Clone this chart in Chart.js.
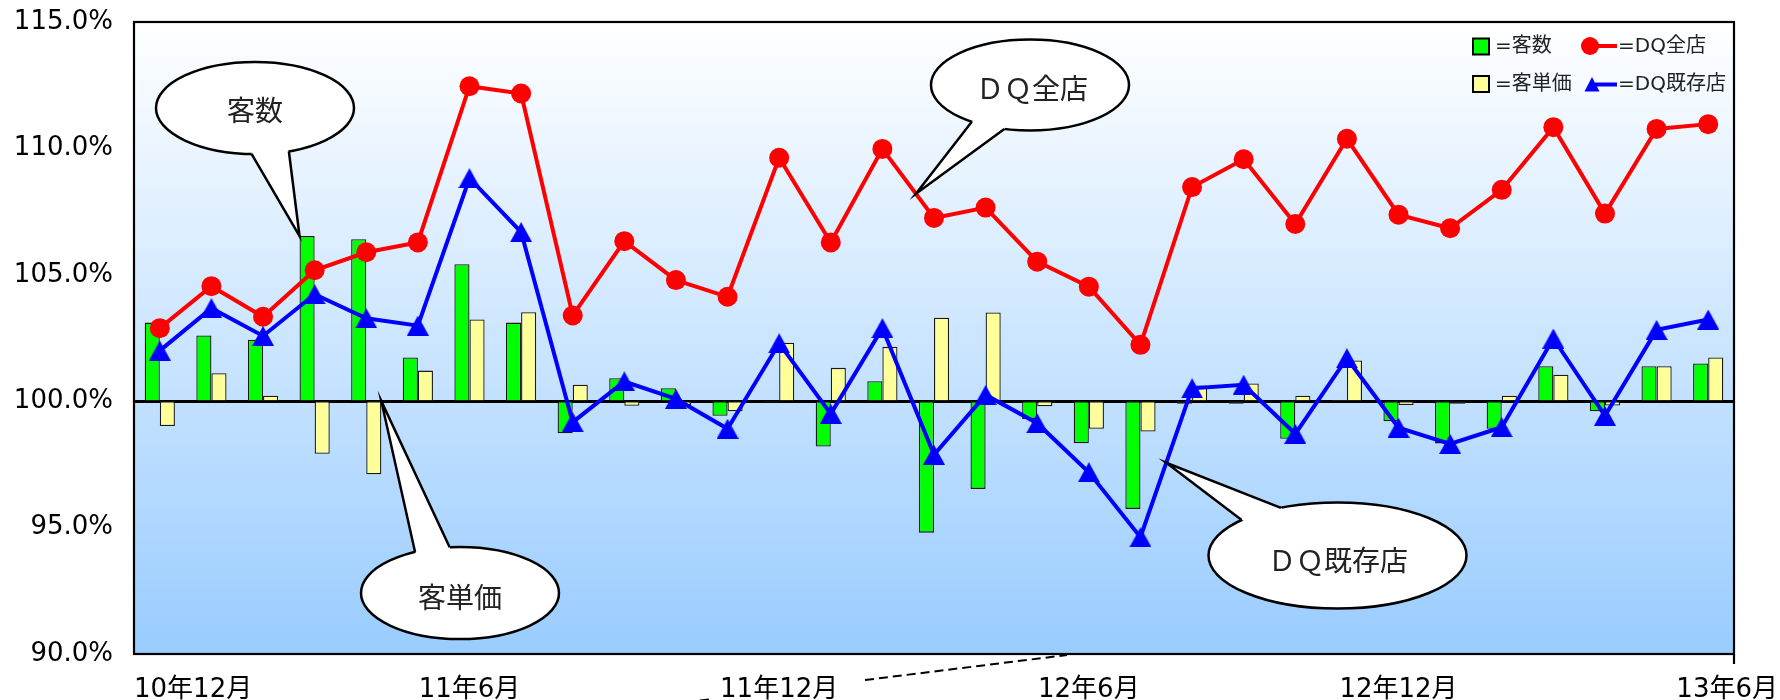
<!DOCTYPE html>
<html>
<head>
<meta charset="utf-8">
<title>客数・客単価・DQ全店・DQ既存店</title>
<script src="https://cdn.jsdelivr.net/npm/chart.js@4.4.1/dist/chart.umd.min.js"></script>
<style>
  html, body { margin: 0; padding: 0; background: #ffffff; }
  canvas { display: block; }
</style>
</head>
<body>
<canvas id="chart" width="1780" height="700"></canvas>
<script>
// Monthly categories, Dec 2010 – Jun 2013
const months = [
  '10年12月',
  '11年1月', '11年2月', '11年3月', '11年4月', '11年5月', '11年6月',
  '11年7月', '11年8月', '11年9月', '11年10月', '11年11月', '11年12月',
  '12年1月', '12年2月', '12年3月', '12年4月', '12年5月', '12年6月',
  '12年7月', '12年8月', '12年9月', '12年10月', '12年11月', '12年12月',
  '13年1月', '13年2月', '13年3月', '13年4月', '13年5月', '13年6月'
];

// Months that carry a label on the horizontal axis
const axisLabels = ['10年12月', '11年6月', '11年12月', '12年6月', '12年12月', '13年6月'];

// Year-on-year ratios (%)
const guestCount = [
  103.11, 102.60, 102.43, 106.53, 106.41, 101.73, 105.42, 103.11, 98.73, 100.91,
  100.51, 99.42, 99.95, 98.21, 100.79, 94.80, 96.53, 99.30, 98.34, 95.74,
  99.90, 99.90, 98.51, 100.05, 99.21, 98.33, 98.91, 101.38, 99.60, 101.38,
  101.49
];
const spendPerGuest = [
  99.02, 101.11, 100.22, 97.92, 97.11, 101.21, 103.23, 103.52, 100.65, 99.82,
  99.85, 99.60, 102.31, 101.32, 102.15, 103.30, 103.51, 99.80, 98.91, 98.80,
  100.62, 100.70, 100.22, 101.61, 99.85, 99.90, 100.22, 101.05, 99.83, 101.38,
  101.73
];
const dqAllStores = [
  102.89, 104.55, 103.34, 105.18, 105.89, 106.28, 112.46, 112.17, 103.39, 106.33,
  104.79, 104.13, 109.63, 106.28, 109.98, 107.25, 107.66, 105.52, 104.53, 102.23,
  108.47, 109.57, 107.01, 110.38, 107.38, 106.84, 108.36, 110.84, 107.42, 110.77,
  110.96
];
const dqExistingStores = [
  102.00, 103.68, 102.58, 104.23, 103.28, 102.99, 108.82, 106.69, 99.17, 100.78,
  100.09, 98.91, 102.29, 99.50, 102.89, 97.88, 100.25, 99.13, 97.19, 94.62,
  100.51, 100.65, 98.71, 101.70, 98.95, 98.31, 98.97, 102.48, 99.42, 102.82,
  103.23
];

const yTicks = [90, 95, 100, 105, 110, 115];
const baseline = 100;
const seriesNames = ['客数', '客単価', 'DQ全店', 'DQ既存店'];
const calloutTexts = ['客数', '客単価', 'ＤＱ全店', 'ＤＱ既存店'];

const LATIN = "'DejaVu Sans', 'Noto Sans CJK JP', sans-serif";
const CJK = "'Noto Sans CJK JP', sans-serif";
const GREEN = '#00FF00';
const YELLOW = '#FFFF99';
const RED = '#FF0000';
const BLUE = '#0000FF';

// Upward triangle marker, centred on its point
function triangleSprite(w, h, color) {
  const c = document.createElement('canvas');
  c.width = w; c.height = h;
  const g = c.getContext('2d');
  g.fillStyle = color;
  g.beginPath();
  g.moveTo(w / 2, 0);
  g.lineTo(w, h);
  g.lineTo(0, h);
  g.closePath();
  g.fill();
  return c;
}
const blueTriangle = triangleSprite(22, 20, BLUE);

// Plot background: white fading to light blue
const plotBackground = {
  id: 'plotBackground',
  beforeDraw(chart) {
    const { ctx, chartArea: a } = chart;
    ctx.save();
    ctx.fillStyle = '#ffffff';
    ctx.fillRect(0, 0, chart.width, chart.height);
    const g = ctx.createLinearGradient(0, a.top, 0, a.bottom);
    g.addColorStop(0, '#ffffff');
    g.addColorStop(1, '#99CCFF');
    ctx.fillStyle = g;
    ctx.fillRect(a.left, a.top, a.right - a.left, a.bottom - a.top);
    ctx.restore();
  }
};

// Speech-bubble callouts pointing at marks
function drawBubble(ctx, b, tip) {
  const pt = (deg, k) => {
    const t = deg * Math.PI / 180;
    return [b.cx + k * b.rx * Math.cos(t), b.cy + k * b.ry * Math.sin(t)];
  };
  const p1 = pt(b.a1, 1), p2 = pt(b.a2, 1);
  const p1i = pt(b.a1, 0.9), p2i = pt(b.a2, 0.9);
  ctx.save();
  ctx.lineWidth = 2.5;
  ctx.strokeStyle = '#000';
  ctx.fillStyle = '#fff';
  ctx.beginPath();
  ctx.ellipse(b.cx, b.cy, b.rx, b.ry, 0, 0, Math.PI * 2);
  ctx.fill();
  ctx.stroke();
  ctx.beginPath();
  ctx.moveTo(p1i[0], p1i[1]);
  ctx.lineTo(p1[0], p1[1]);
  ctx.lineTo(tip[0], tip[1]);
  ctx.lineTo(p2[0], p2[1]);
  ctx.lineTo(p2i[0], p2i[1]);
  ctx.closePath();
  ctx.fill();
  ctx.lineJoin = 'miter';
  ctx.beginPath();
  ctx.moveTo(p1[0], p1[1]);
  ctx.lineTo(tip[0], tip[1]);
  ctx.lineTo(p2[0], p2[1]);
  ctx.stroke();
  ctx.fillStyle = '#222';
  ctx.font = '28px ' + CJK;
  ctx.textAlign = 'center';
  ctx.textBaseline = 'middle';
  ctx.fillText(b.text, b.tx, b.ty);
  ctx.restore();
}

const callouts = {
  id: 'callouts',
  afterDatasetsDraw(chart) {
    const { ctx } = chart;
    const bar = (ds, i) => chart.getDatasetMeta(ds).data[i];
    const along = (ds, i, t) => {
      const p = chart.getDatasetMeta(ds).data[i], q = chart.getDatasetMeta(ds).data[i + 1];
      return [p.x + (q.x - p.x) * t, p.y + (q.y - p.y) * t];
    };
    const g = bar(0, 3);
    drawBubble(ctx, { cx: 255, cy: 108, rx: 99, ry: 46, a1: 92, a2: 70, text: calloutTexts[0], tx: 255, ty: 110 },
      [g.x - g.width / 2, g.y]);
    const s = bar(1, 4);
    drawBubble(ctx, { cx: 460, cy: 593, rx: 99, ry: 46, a1: -117, a2: -96, text: calloutTexts[1], tx: 460, ty: 597 },
      [s.x + s.width / 2, s.y]);
    drawBubble(ctx, { cx: 1030, cy: 85, rx: 99, ry: 45.5, a1: 126, a2: 105, text: calloutTexts[2], tx: 1032, ty: 88 },
      along(2, 14, 0.65));
    drawBubble(ctx, { cx: 1337.5, cy: 555.5, rx: 129, ry: 53, a1: -138, a2: -116, text: calloutTexts[3], tx: 1338, ty: 560 },
      along(3, 19, 0.5));
  }
};

// Frame, legend, month labels and the guide line under the axis
const decorations = {
  id: 'decorations',
  afterDraw(chart) {
    const { ctx, chartArea: a } = chart;
    const x = chart.scales.x;
    ctx.save();

    // plot frame
    ctx.strokeStyle = '#000';
    ctx.lineWidth = 2.2;
    ctx.strokeRect(a.left, a.top, a.right - a.left, a.bottom - a.top);
    ctx.beginPath();
    ctx.moveTo(a.right, a.bottom);
    ctx.lineTo(a.right, a.bottom + 10);
    ctx.stroke();

    // dashed guide line below the axis
    const p0 = [700, 700.5], p1 = [1067, 655];
    const yAt = (xx) => p0[1] + (p1[1] - p0[1]) * (xx - p0[0]) / (p1[0] - p0[0]);
    ctx.setLineDash([9, 5]);
    ctx.lineWidth = 2;
    ctx.beginPath();
    ctx.moveTo(p0[0], p0[1]); ctx.lineTo(712, yAt(712));
    ctx.moveTo(865, yAt(865)); ctx.lineTo(p1[0], p1[1]);
    ctx.stroke();
    ctx.setLineDash([]);

    // month labels
    ctx.fillStyle = '#000';
    ctx.font = '26px ' + LATIN;
    ctx.textBaseline = 'alphabetic';
    axisLabels.forEach((lab, k) => {
      const px = x.getPixelForValue(months.indexOf(lab));
      if (k === 0) { ctx.textAlign = 'left'; ctx.fillText(lab, a.left, 697); }
      else if (k === axisLabels.length - 1) { ctx.textAlign = 'right'; ctx.fillText(lab, chart.width - 2, 697); }
      else { ctx.textAlign = 'center'; ctx.fillText(lab, px, 697); }
    });

    // legend
    ctx.font = '20px ' + LATIN;
    ctx.textAlign = 'left';
    ctx.textBaseline = 'middle';
    const box = (bx, by, color) => {
      ctx.fillStyle = color;
      ctx.fillRect(bx, by, 16, 16);
      ctx.lineWidth = 2;
      ctx.strokeStyle = '#000';
      ctx.strokeRect(bx, by, 16, 16);
    };
    box(1473, 38.5, GREEN);
    box(1473, 76, YELLOW);
    ctx.fillStyle = '#222';
    ctx.fillText('=' + seriesNames[0], 1495, 47);
    ctx.fillText('=' + seriesNames[1], 1495, 84.5);

    ctx.strokeStyle = RED;
    ctx.lineWidth = 4;
    ctx.beginPath(); ctx.moveTo(1590, 46); ctx.lineTo(1617, 46); ctx.stroke();
    ctx.fillStyle = RED;
    ctx.beginPath(); ctx.arc(1590, 46, 9, 0, Math.PI * 2); ctx.fill();

    ctx.strokeStyle = BLUE;
    ctx.beginPath(); ctx.moveTo(1595, 84.5); ctx.lineTo(1617, 84.5); ctx.stroke();
    ctx.fillStyle = BLUE;
    ctx.beginPath(); ctx.moveTo(1592, 77); ctx.lineTo(1599.5, 91.5); ctx.lineTo(1584.5, 91.5); ctx.closePath(); ctx.fill();

    ctx.fillStyle = '#222';
    ctx.fillText('=' + seriesNames[2], 1618, 47);
    ctx.fillText('=' + seriesNames[3], 1618, 84.5);
    ctx.restore();
  }
};

new Chart(document.getElementById('chart'), {
  type: 'bar',
  data: {
    labels: months,
    datasets: [
      {
        type: 'bar', label: seriesNames[0],
        data: guestCount.map(v => [baseline, v]),
        backgroundColor: GREEN, borderColor: '#1a1a1a', borderWidth: 1.3, borderSkipped: false,
        categoryPercentage: 0.585, barPercentage: 1.0, order: 2
      },
      {
        type: 'bar', label: seriesNames[1],
        data: spendPerGuest.map(v => [baseline, v]),
        backgroundColor: YELLOW, borderColor: '#1a1a1a', borderWidth: 1.3, borderSkipped: false,
        categoryPercentage: 0.585, barPercentage: 1.0, order: 2
      },
      {
        type: 'line', label: seriesNames[2], data: dqAllStores,
        borderColor: RED, borderWidth: 4, tension: 0,
        pointStyle: 'circle', pointRadius: 10, pointBackgroundColor: RED,
        pointBorderColor: RED, pointBorderWidth: 0, order: 1
      },
      {
        type: 'line', label: seriesNames[3], data: dqExistingStores,
        borderColor: BLUE, borderWidth: 4, tension: 0,
        pointStyle: blueTriangle, pointRadius: 11, pointBackgroundColor: BLUE,
        pointBorderColor: BLUE, pointBorderWidth: 0, order: 0
      }
    ]
  },
  options: {
    responsive: false,
    devicePixelRatio: 1,
    animation: false,
    layout: { padding: { top: 22, right: 46, left: 0, bottom: 0 } },
    plugins: { legend: { display: false }, tooltip: { enabled: false } },
    scales: {
      x: {
        type: 'category',
        offset: true,
        grid: { display: false },
        border: { display: false },
        ticks: { display: false },
        afterFit(s) { s.height = 46; s.paddingLeft = 0; s.paddingRight = 0; }
      },
      y: {
        min: yTicks[0],
        max: yTicks[yTicks.length - 1],
        afterBuildTicks(s) { s.ticks = yTicks.map(v => ({ value: v })); },
        ticks: {
          callback: v => v.toFixed(1) + '%',
          font: { family: LATIN, size: 26 },
          color: '#000',
          padding: 21
        },
        grid: {
          drawTicks: false,
          color: c => (c.tick && c.tick.value === baseline) ? '#000' : 'rgba(0,0,0,0)',
          lineWidth: 3
        },
        border: { display: false },
        afterFit(s) { s.width = 134; s.paddingTop = 0; s.paddingBottom = 0; }
      }
    }
  },
  plugins: [plotBackground, callouts, decorations]
});
</script>
</body>
</html>
